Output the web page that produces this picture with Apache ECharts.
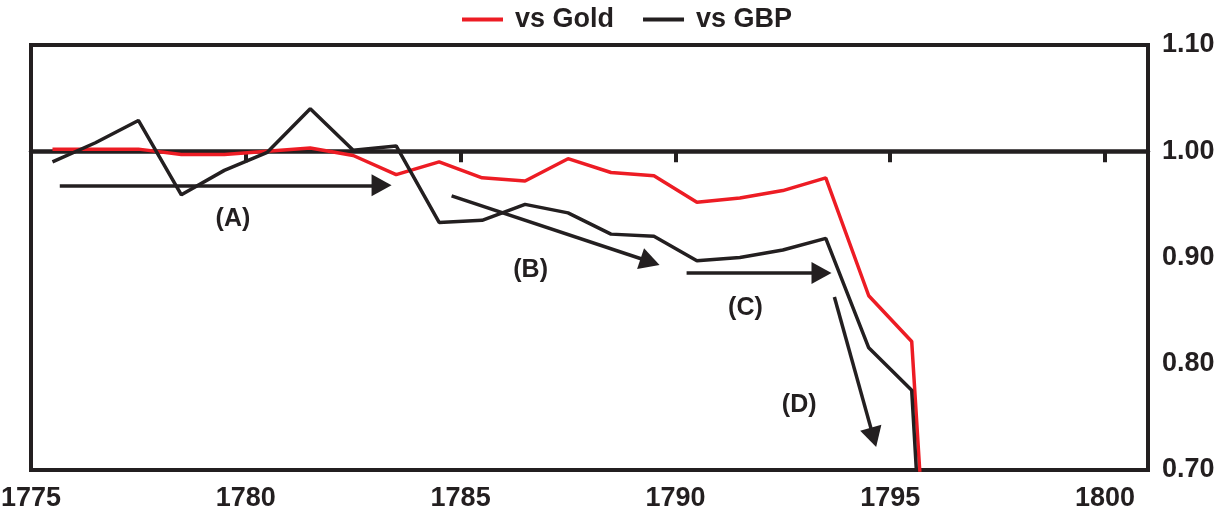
<!DOCTYPE html>
<html>
<head>
<meta charset="utf-8">
<script src="https://cdn.jsdelivr.net/npm/echarts@6/dist/echarts.min.js"></script>
<style>
html,body{margin:0;padding:0;background:#fff;}
#chart{width:1227px;height:512px;}
</style>
</head>
<body>
<div id="chart"></div>
<script>
// Mid-year positions of annual observations
const years = [1775.5,1776.5,1777.5,1778.5,1779.5,1780.5,1781.5,1782.5,1783.5,1784.5,1785.5,1786.5,1787.5,1788.5,1789.5,1790.5,1791.5,1792.5,1793.5,1794.5,1795.5,1796.5];
const vsGold = [1.002,1.002,1.002,0.997,0.997,1.000,1.003,0.996,0.978,0.990,0.975,0.972,0.993,0.980,0.977,0.952,0.956,0.963,0.975,0.864,0.821,0.17];
const vsGBP  = [0.990,1.008,1.029,0.959,0.982,0.999,1.040,1.001,1.005,0.933,0.935,0.950,0.942,0.922,0.920,0.897,0.900,0.907,0.918,0.815,0.775,0.08];
const yTicks = [0.70,0.80,0.90,1.00,1.10];
const xTicks = [1775,1780,1785,1790,1795,1800];

// annotation arrows: [start x, start y, arrowhead x, arrowhead y]
const arrows = [
  [1775.67,0.968,1783.16,0.968],
  [1784.79,0.958,1789.41,0.896],
  [1790.26,0.8854,1793.40,0.8854],
  [1793.70,0.8628,1794.61,0.7307]
];
const annoLabels = ['(A)','(B)','(C)','(D)'];
const annoPos = [[1779.70,0.936],[1786.63,0.888],[1791.63,0.8525],[1792.88,0.761]];

const FONT = '"Liberation Sans", Arial, sans-serif';
const INK = '#231f20';
const RED = '#ed1c24';

const chart = echarts.init(document.getElementById('chart'), null, {renderer:'canvas'});
const pair = (xs, ys) => xs.map((x,i)=>[x, ys[i]]);

chart.setOption({
  animation:false,
  backgroundColor:'#fff',
  legend:{
    data:['vs Gold','vs GBP'],
    left:457, top:1,
    itemWidth:41, itemHeight:4, itemGap:29,
    icon:'rect',
    textStyle:{fontFamily:FONT, fontWeight:'bold', fontSize:27, color:INK, padding:[0,0,0,7]}
  },
  grid:{left:31, right:79, top:45, bottom:42, show:true, borderColor:INK, borderWidth:4,
    backgroundColor:'transparent', containLabel:false, outerBoundsMode:'none'},
  xAxis:[{
    type:'value', min:xTicks[0], max:1801, interval:5, position:'bottom',
    axisLine:{show:false}, axisTick:{show:false}, splitLine:{show:false},
    axisLabel:{showMaxLabel:false, fontFamily:FONT, fontWeight:'bold', fontSize:27, color:INK, margin:15,
      formatter:v=>xTicks.includes(v)?String(v):''}
  },{
    type:'value', min:xTicks[0], max:1801, interval:5, position:'top', offset:-106.25,
    axisLine:{show:true, lineStyle:{color:INK, width:4.5}},
    axisTick:{show:true, inside:true, length:11, lineStyle:{color:INK, width:4}},
    axisLabel:{show:false}, splitLine:{show:false}
  }],
  yAxis:{
    type:'value', position:'right', min:yTicks[0], max:yTicks[yTicks.length-1], interval:0.1,
    axisLine:{show:false}, axisTick:{show:false}, splitLine:{show:false},
    axisLabel:{fontFamily:FONT, fontWeight:'bold', fontSize:27, color:INK, margin:14,
      padding:[9,0,0,0],
      formatter:v=>v.toFixed(2)}
  },
  series:[
    {name:'vs Gold', type:'line', data:pair(years, vsGold), symbol:'none', clip:true,
      lineStyle:{color:RED, width:3.5}, itemStyle:{color:RED}, z:3},
    {name:'vs GBP', type:'line', data:pair(years, vsGBP), symbol:'none', clip:true,
      lineStyle:{color:INK, width:3.5}, itemStyle:{color:INK}, z:4},
    {name:'annotations', type:'scatter', symbolSize:0, z:5,
      itemStyle:{opacity:1, color:INK},
      data:annoPos.map((p,i)=>({name:annoLabels[i], value:p})),
      label:{show:true, position:'inside', formatter:'{b}', fontFamily:FONT, fontWeight:'bold', fontSize:25, color:INK, opacity:1},
      markLine:{
        silent:true, animation:false,
        symbol:['none','triangle'], symbolSize:[22,20],
        lineStyle:{color:INK, width:3.5, type:'solid', opacity:1},
        label:{show:false},
        data:arrows.map(a=>[{coord:[a[0],a[1]]},{coord:[a[2],a[3]]}])
      }
    }
  ]
});
</script>
</body>
</html>
